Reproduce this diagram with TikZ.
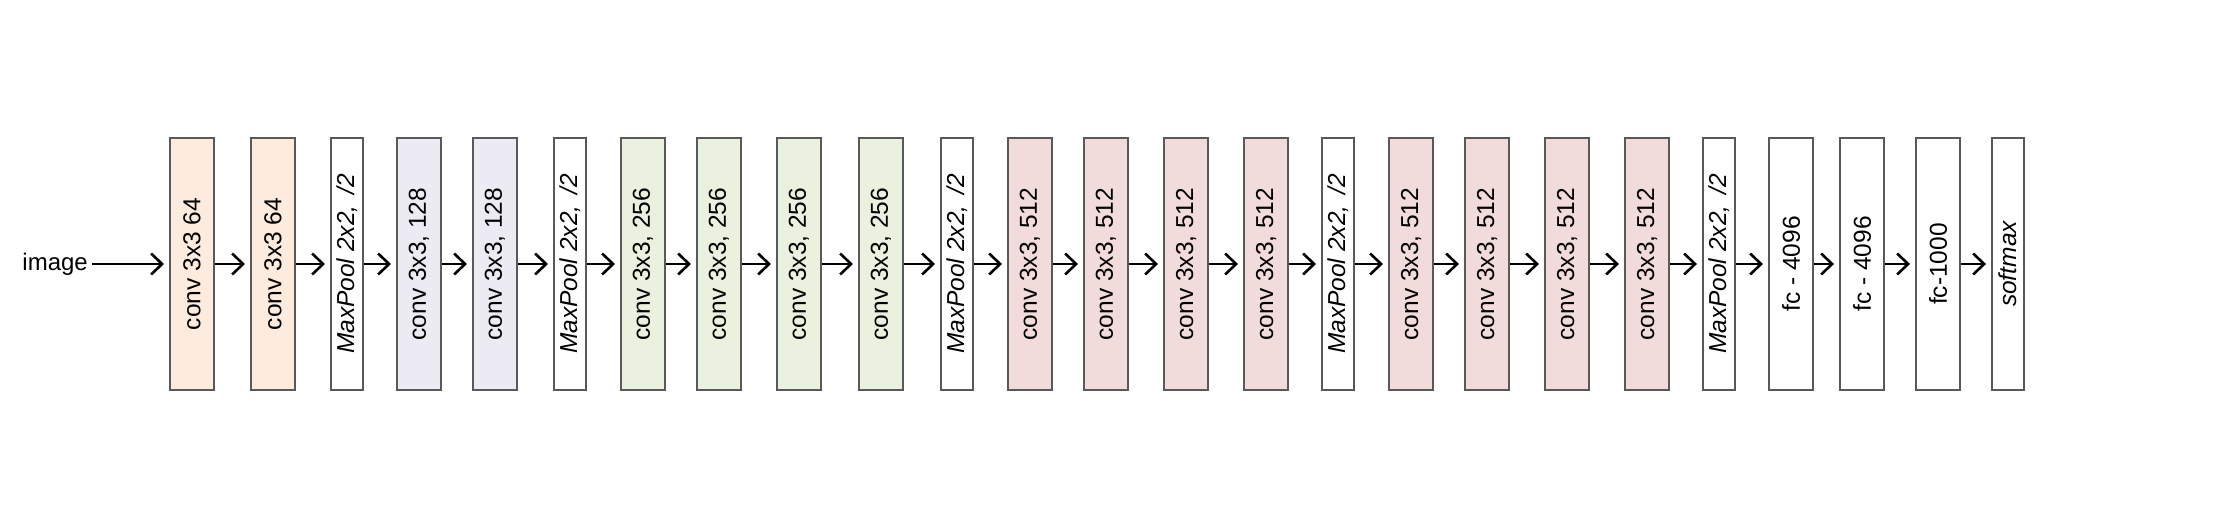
\documentclass[tikz,border=0pt]{standalone}
\usepackage{fontspec}
\setmainfont{Liberation Sans}
\usetikzlibrary{arrows.meta}
\definecolor{bordergray}{HTML}{595959}
\definecolor{orangefill}{HTML}{FDEBDD}
\definecolor{purplefill}{HTML}{ECEAF2}
\definecolor{greenfill}{HTML}{EAF1DE}
\definecolor{pinkfill}{HTML}{F2DCDB}
\tikzset{
  layer/.style={draw=bordergray, line width=2pt, minimum height=252pt, inner sep=0pt,
    font=\fontsize{24.5}{28}\selectfont},
  widebox/.style={layer, minimum width=44pt},
  narrowbox/.style={layer, minimum width=32pt, fill=white},
  conva/.style={widebox, fill=orangefill},
  convb/.style={widebox, fill=purplefill},
  convc/.style={widebox, fill=greenfill},
  convd/.style={widebox, fill=pinkfill},
  fcbox/.style={widebox, fill=white},
  flow/.style={line width=2.6pt, -{Straight Barb[length=11pt,width=21pt,line width=2.6pt]}, shorten >=5pt}
}
\newcommand{\vt}[1]{\rotatebox{90}{#1}}
\newcommand{\mxpool}{\vt{\itshape MaxPool 2x2,\ \,/2}}
\begin{document}
\begin{tikzpicture}[x=1pt,y=-1pt]
\useasboundingbox (0,0) rectangle (2238,521);
\node[font=\fontsize{24}{28}\selectfont, inner sep=0pt, anchor=east] (img) at (88,264) {image};
\node[conva] (b1) at (192,264) {\vt{conv 3x3 64}};
\node[conva] (b2) at (273,264) {\vt{conv 3x3 64}};
\node[narrowbox] (b3) at (347,264) {\mxpool};
\node[convb] (b4) at (419,264) {\vt{conv 3x3, 128}};
\node[convb] (b5) at (495,264) {\vt{conv 3x3, 128}};
\node[narrowbox] (b6) at (570,264) {\mxpool};
\node[convc] (b7) at (643,264) {\vt{conv 3x3, 256}};
\node[convc] (b8) at (719,264) {\vt{conv 3x3, 256}};
\node[convc] (b9) at (799,264) {\vt{conv 3x3, 256}};
\node[convc] (b10) at (881,264) {\vt{conv 3x3, 256}};
\node[narrowbox] (b11) at (957,264) {\mxpool};
\node[convd] (b12) at (1030,264) {\vt{conv 3x3, 512}};
\node[convd] (b13) at (1106,264) {\vt{conv 3x3, 512}};
\node[convd] (b14) at (1186,264) {\vt{conv 3x3, 512}};
\node[convd] (b15) at (1266,264) {\vt{conv 3x3, 512}};
\node[narrowbox] (b16) at (1338,264) {\mxpool};
\node[convd] (b17) at (1411,264) {\vt{conv 3x3, 512}};
\node[convd] (b18) at (1487,264) {\vt{conv 3x3, 512}};
\node[convd] (b19) at (1567,264) {\vt{conv 3x3, 512}};
\node[convd] (b20) at (1647,264) {\vt{conv 3x3, 512}};
\node[narrowbox] (b21) at (1719,264) {\mxpool};
\node[fcbox] (b22) at (1791,264) {\vt{fc - 4096}};
\node[fcbox] (b23) at (1862,264) {\vt{fc - 4096}};
\node[fcbox] (b24) at (1938,264) {\vt{fc-1000}};
\node[narrowbox] (b25) at (2008,264) {\vt{\itshape softmax}};
\draw[flow, shorten <=4pt] (img.east) -- (b1.west);
\foreach \a/\b in {1/2,2/3,3/4,4/5,5/6,6/7,7/8,8/9,9/10,10/11,11/12,12/13,13/14,14/15,15/16,16/17,17/18,18/19,19/20,20/21,21/22,22/23,23/24,24/25}
  \draw[flow] (b\a.east) -- (b\b.west);
\end{tikzpicture}
\end{document}
